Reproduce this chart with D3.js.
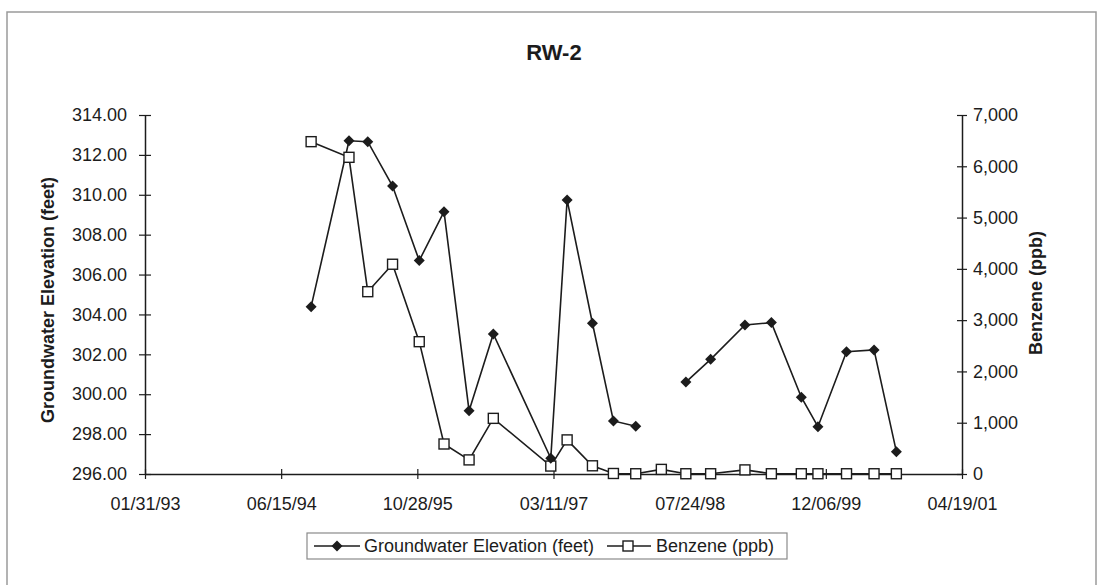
<!DOCTYPE html>
<html>
<head>
<meta charset="utf-8">
<script src="https://cdn.jsdelivr.net/npm/d3@7"></script>
<style>
  body { margin: 0; background: #fff; }
  svg { display: block; font-family: "Liberation Sans", Arial, sans-serif; }
</style>
</head>
<body>
<svg id="chart" width="1097" height="585"></svg>
<script>
// sample dates (RW-2)
var sampleDates = ["1994-10-03", "1995-02-19", "1995-04-29", "1995-07-29", "1995-11-04",
  "1996-02-03", "1996-05-05", "1996-08-02", "1997-03-01", "1997-04-30", "1997-08-01",
  "1997-10-17", "1998-01-07", "1998-04-11", "1998-07-10", "1998-10-09", "1999-02-12",
  "1999-05-20", "1999-09-07", "1999-11-07", "2000-02-20", "2000-05-31", "2000-08-21"];

// groundwater elevation (feet), null = not measured
var groundwater = [304.39, 312.71, 312.66, 310.44, 306.70, 309.15, 299.17, 303.02,
  296.79, 309.74, 303.56, 298.66, 298.39, null, 300.61, 301.75, 303.47, 303.59,
  299.85, 298.37, 302.13, 302.22, 297.12];

// benzene (ppb)
var benzene = [6480, 6175, 3555, 4090, 2580, 585, 275, 1085, 155, 665, 160, 10, 5,
  90, 5, 5, 80, 5, 5, 5, 5, 5, 5];

var xTickLabels = ["01/31/93", "06/15/94", "10/28/95", "03/11/97", "07/24/98", "12/06/99", "04/19/01"];
var leftTicks = [296, 298, 300, 302, 304, 306, 308, 310, 312, 314];
var rightTicks = [0, 1000, 2000, 3000, 4000, 5000, 6000, 7000];

var parseIso = d3.utcParse("%Y-%m-%d"),
    parseTick = d3.utcParse("%m/%d/%y"),
    fmtTick = d3.utcFormat("%m/%d/%y");

var data = sampleDates.map(function(s, i) {
  return { date: parseIso(s), gw: groundwater[i], bz: benzene[i] };
});
var xTicks = xTickLabels.map(parseTick);

var plotLeft = 145, plotRight = 962, plotTop = 115, plotBottom = 474;
var ink = "#1c1c1c";

var svg = d3.select("#chart");

// outer frame (scanned page border)
svg.append("path")
  .attr("d", "M7,590V12H1096V590")
  .attr("fill", "none")
  .attr("stroke", "#9a9a9a")
  .attr("stroke-width", 1.5);

var x = d3.scaleUtc().domain([xTicks[0], xTicks[xTicks.length - 1]]).range([plotLeft, plotRight]);
var yL = d3.scaleLinear().domain([296, 314]).range([plotBottom, plotTop]);
var yR = d3.scaleLinear().domain([0, 7000]).range([plotBottom, plotTop]);

svg.append("text")
  .attr("x", 554).attr("y", 60)
  .attr("text-anchor", "middle")
  .attr("font-size", 22).attr("font-weight", "bold")
  .attr("fill", ink)
  .text("RW-2");

// left axis
var gL = svg.append("g")
  .attr("transform", "translate(" + plotLeft + ",0)")
  .call(d3.axisLeft(yL).tickValues(leftTicks).tickFormat(d3.format(".2f")).tickSizeOuter(0));
gL.selectAll(".tick line").attr("x1", 6).attr("x2", -6);
gL.selectAll(".tick text").attr("x", -18);

// right axis
var gR = svg.append("g")
  .attr("transform", "translate(" + plotRight + ",0)")
  .call(d3.axisRight(yR).tickValues(rightTicks).tickFormat(d3.format(",")).tickSizeOuter(0));
gR.selectAll(".tick line").attr("x1", -5).attr("x2", 5);
gR.selectAll(".tick text").attr("x", 11);

// x axis
var gX = svg.append("g")
  .attr("transform", "translate(0," + plotBottom + ")")
  .call(d3.axisBottom(x).tickValues(xTicks).tickFormat(fmtTick).tickSizeOuter(0));
gX.selectAll(".tick line").attr("y1", -5).attr("y2", 5);
gX.selectAll(".tick text").attr("y", 23);

[gL, gR, gX].forEach(function(g) {
  g.selectAll(".domain").attr("stroke", ink).attr("stroke-width", 1.5);
  g.selectAll(".tick line").attr("stroke", ink).attr("stroke-width", 1.2);
  g.selectAll(".tick text").attr("font-size", 18).attr("fill", ink)
    .attr("font-family", "'Liberation Sans', Arial, sans-serif");
});

svg.append("text")
  .attr("transform", "translate(48,300) rotate(-90)")
  .attr("text-anchor", "middle").attr("dominant-baseline", "central")
  .attr("font-size", 18).attr("font-weight", "bold").attr("fill", ink)
  .text("Groundwater Elevation (feet)");

svg.append("text")
  .attr("transform", "translate(1036,293) rotate(-90)")
  .attr("text-anchor", "middle").attr("dominant-baseline", "central")
  .attr("font-size", 18).attr("font-weight", "bold").attr("fill", ink)
  .text("Benzene (ppb)");

var diamond = "M0,-5.5L5.5,0L0,5.5L-5.5,0Z";

// benzene line + squares
var bzLine = d3.line().x(function(d) { return x(d.date); }).y(function(d) { return yR(d.bz); });
svg.append("path").datum(data)
  .attr("d", bzLine)
  .attr("fill", "none").attr("stroke", ink).attr("stroke-width", 1.6);

// groundwater line + diamonds
var gwLine = d3.line()
  .defined(function(d) { return d.gw != null; })
  .x(function(d) { return x(d.date); }).y(function(d) { return yL(d.gw); });
svg.append("path").datum(data)
  .attr("d", gwLine)
  .attr("fill", "none").attr("stroke", ink).attr("stroke-width", 1.6);

svg.append("g").selectAll("rect")
  .data(data)
  .enter().append("rect")
  .attr("x", function(d) { return x(d.date) - 5; })
  .attr("y", function(d) { return yR(d.bz) - 5; })
  .attr("width", 10).attr("height", 10)
  .attr("fill", "#fff").attr("stroke", ink).attr("stroke-width", 1.4);

svg.append("g").selectAll("path")
  .data(data.filter(function(d) { return d.gw != null; }))
  .enter().append("path")
  .attr("d", diamond)
  .attr("transform", function(d) { return "translate(" + x(d.date) + "," + yL(d.gw) + ")"; })
  .attr("fill", ink);

// legend
var lg = svg.append("g");
lg.append("rect")
  .attr("x", 307).attr("y", 533).attr("width", 480).attr("height", 26)
  .attr("fill", "#fff").attr("stroke", "#8a8a8a").attr("stroke-width", 1.2);
lg.append("line").attr("x1", 314).attr("x2", 360).attr("y1", 546).attr("y2", 546)
  .attr("stroke", ink).attr("stroke-width", 1.6);
lg.append("path").attr("d", diamond).attr("transform", "translate(337,546)").attr("fill", ink);
lg.append("text").attr("x", 364).attr("y", 552).attr("font-size", 18).attr("fill", ink)
  .text("Groundwater Elevation (feet)");
lg.append("line").attr("x1", 607).attr("x2", 651).attr("y1", 546).attr("y2", 546)
  .attr("stroke", ink).attr("stroke-width", 1.6);
lg.append("rect").attr("x", 623).attr("y", 541).attr("width", 10).attr("height", 10)
  .attr("fill", "#fff").attr("stroke", ink).attr("stroke-width", 1.4);
lg.append("text").attr("x", 656).attr("y", 552).attr("font-size", 18).attr("fill", ink)
  .text("Benzene (ppb)");
</script>
</body>
</html>
